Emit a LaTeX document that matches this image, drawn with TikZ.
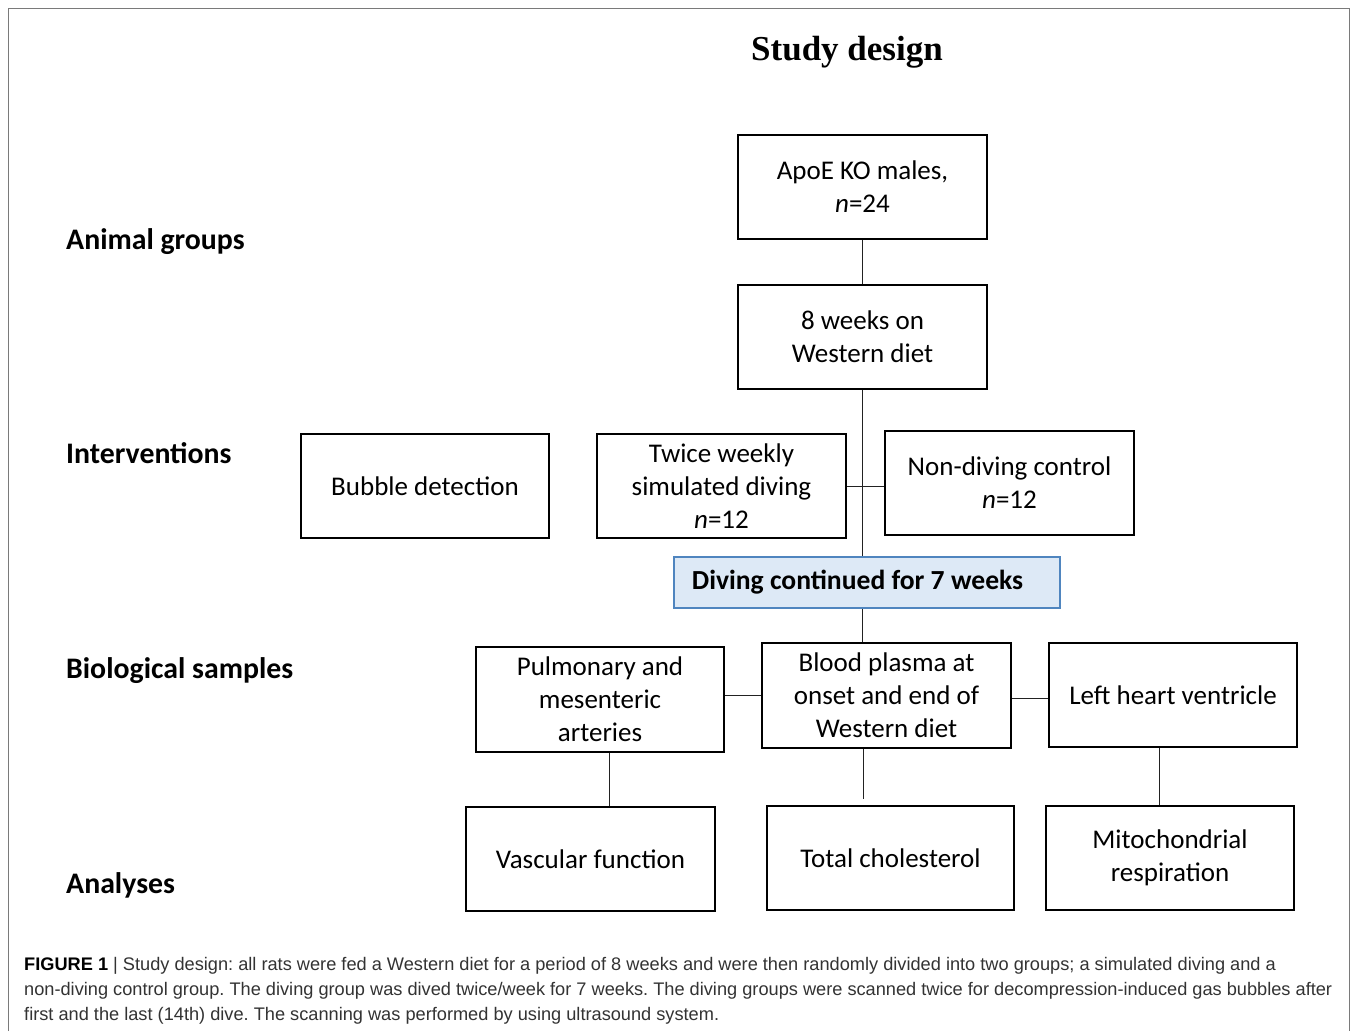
\documentclass[tikz,border=0pt]{standalone}
\usepackage{fontspec}
\setmainfont{Carlito}
\newfontfamily\titlefont{Liberation Serif}
\newfontfamily\capfont{Liberation Sans}
\usetikzlibrary{calc}
\definecolor{frameg}{HTML}{7A7A7A}
\definecolor{divefill}{HTML}{DDE9F6}
\definecolor{diveline}{HTML}{4F85BF}
\definecolor{captxt}{HTML}{333333}
\definecolor{connc}{HTML}{222222}
\tikzset{
  box/.style={draw=black, line width=2.8pt, minimum width=249pt, minimum height=104pt,
    inner sep=0pt, align=center, font=\fontsize{27}{33}\selectfont},
  rowlabel/.style={anchor=base west, inner sep=0pt, font=\fontsize{29.8}{34}\selectfont\bfseries},
  conn/.style={line width=1pt, connc},
  capline/.style={anchor=base west, inner sep=0pt, text=captxt, font=\capfont\fontsize{18.2}{25}\selectfont}
}
\begin{document}
\frenchspacing
\begin{tikzpicture}[x=1pt,y=-1pt]
\useasboundingbox (0,0) rectangle (1357,1031);
\fill[white] (0,0) rectangle (1357,1031);
\draw[frameg, line width=1.6pt] (8.5,1031) -- (8.5,8.5) -- (1349.5,8.5) -- (1349.5,1031);

\node[anchor=base, inner sep=0pt, font=\titlefont\bfseries\fontsize{35}{40}\selectfont] (title) at (847,60) {Study design};

\node[rowlabel] (lab1) at (66,249) {Animal groups};
\node[rowlabel] (lab2) at (66,463) {Interventions};
\node[rowlabel] (lab3) at (66,678) {Biological samples};
\node[rowlabel] (lab4) at (66,893) {Analyses};

\node[box] (apoe) at (862.5,187) {ApoE KO males,\\\textit{n}=24};
\node[box] (diet) at (862.5,337) {8 weeks on\\Western diet};
\node[box, minimum width=248pt] (bubble) at (425,486) {Bubble detection};
\node[box] (twice) at (721.5,486) {Twice weekly\\simulated diving\\\textit{n}=12};
\node[box] (nondive) at (1009.5,483) {Non-diving control\\\textit{n}=12};
\node[draw=diveline, fill=divefill, line width=1.6pt, minimum width=386pt, minimum height=51pt,
      inner sep=0pt] (dive) at (867,582.5) {};
\node[inner sep=0pt, font=\fontsize{27.6}{30}\selectfont\bfseries] (divetext) at (857.5,582.5) {Diving continued for 7 weeks};
\node[box, minimum width=248pt, minimum height=105pt] (pulm) at (600,699.5) {Pulmonary and\\mesenteric\\arteries};
\node[box, minimum height=105pt] (blood) at (886.5,695.5) {Blood plasma at\\onset and end of\\Western diet};
\node[box, minimum width=248pt] (heart) at (1173,695) {Left heart ventricle};
\node[box] (vasc) at (590.5,859) {Vascular function};
\node[box, minimum width=247pt] (chol) at (890.5,858) {Total cholesterol};
\node[box, minimum width=248pt] (mito) at (1170,858) {Mitochondrial\\respiration};

\coordinate (bh) at ($(blood.east)+(0,2.5)$);
\coordinate (pv) at ($(pulm.south)+(9,0)$);
\coordinate (bc) at ($(blood.south)+(-23.5,0)$);
\coordinate (hm) at ($(heart.south)+(-14,0)$);

\draw[conn] (apoe.south) -- (diet.north);
\draw[conn] (diet.south) -- (diet.south |- dive.north);
\draw[conn] (twice.east) -- (twice.east -| nondive.west);
\draw[conn] (diet.south |- dive.south) -- (diet.south |- blood.north);
\draw[conn] (blood.west) -- (blood.west -| pulm.east);
\draw[conn] (bh) -- (bh -| heart.west);
\draw[conn] (pv) -- (pv |- vasc.north);
\draw[conn, shorten >=6pt] (bc) -- (bc |- chol.north);
\draw[conn] (hm) -- (hm |- mito.north);

\node[capline] (cap1) at (24,970) {{\color{black}\bfseries FIGURE 1 }| Study design: all rats were fed a Western diet for a period of 8 weeks and were then randomly divided into two groups; a simulated diving and a};
\node[capline] (cap2) at (24,995) {non-diving control group. The diving group was dived twice/week for 7 weeks. The diving groups were scanned twice for decompression-induced gas bubbles after};
\node[capline] (cap3) at (24,1020) {first and the last (14th) dive. The scanning was performed by using ultrasound system.};
\end{tikzpicture}
\end{document}
